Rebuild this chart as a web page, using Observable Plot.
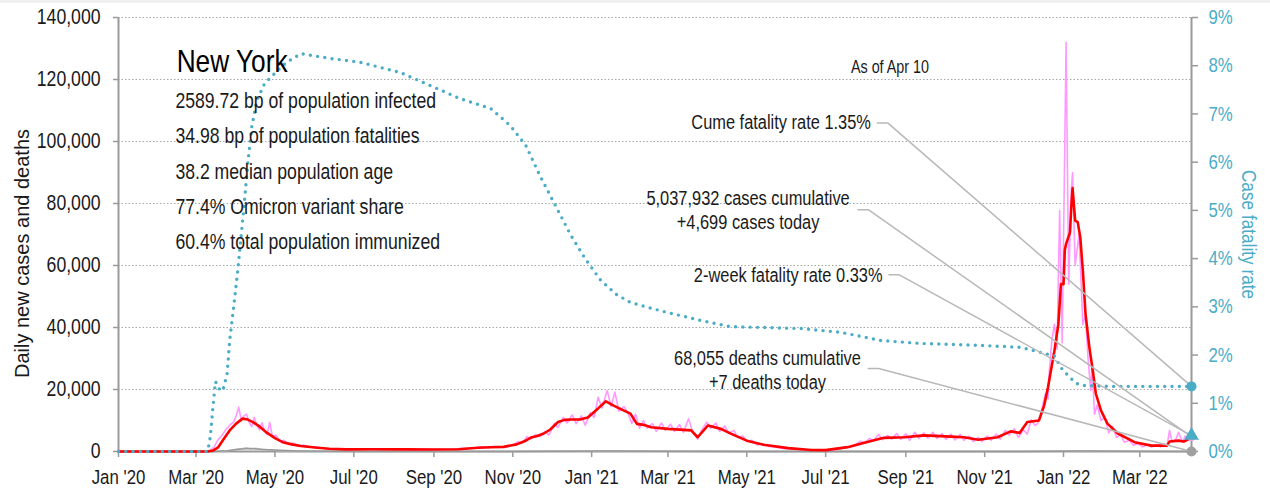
<!DOCTYPE html>
<html><head><meta charset="utf-8">
<script src="https://cdn.jsdelivr.net/npm/d3@7"></script>
<script src="https://cdn.jsdelivr.net/npm/@observablehq/plot@0.6"></script>
<style>
html,body{margin:0;padding:0;background:#fff;}
#strip{height:3px;background:#f0f0f0;}
#chart svg{display:block;}
</style></head><body>
<div id="strip"></div>
<div id="chart"></div>
<script>
// ---------- data ----------
const yTicks = [0, 20000, 40000, 60000, 80000, 100000, 120000, 140000];
const cfrTicks = [0, 1, 2, 3, 4, 5, 6, 7, 8, 9];
const xTicks = ["2020-01-01","2020-03-01","2020-05-01","2020-07-01","2020-09-01","2020-11-01",
  "2021-01-01","2021-03-01","2021-05-01","2021-07-01","2021-09-01","2021-11-01","2022-01-01","2022-03-01"];
const xStart = "2020-01-01", xEnd = "2022-04-10";

// daily new cases (raw, pink)
const dailyCases = [
["2020-01-01",0],["2020-03-08",0],["2020-03-12",400],["2020-03-15",1500],["2020-03-18",3800],["2020-03-21",5200],
["2020-03-24",7000],["2020-03-27",8500],["2020-03-30",9500],["2020-04-01",11500],["2020-04-03",14300],["2020-04-05",10000],
["2020-04-07",11500],["2020-04-09",12000],["2020-04-11",9500],["2020-04-13",8000],["2020-04-15",11000],["2020-04-17",8500],
["2020-04-19",7000],["2020-04-21",9300],["2020-04-23",6500],["2020-04-25",5500],["2020-04-27",9400],["2020-04-29",5000],
["2020-05-02",5200],["2020-05-05",3200],["2020-05-08",3600],["2020-05-12",2300],["2020-05-15",2700],["2020-05-19",1700],
["2020-05-23",2100],["2020-05-28",1500],["2020-06-03",1300],["2020-06-10",900],["2020-06-18",800],["2020-06-26",650],
["2020-07-05",700],["2020-07-15",850],["2020-07-25",700],["2020-08-05",750],["2020-08-15",650],["2020-08-25",700],
["2020-09-05",800],["2020-09-15",750],["2020-09-25",1000],["2020-10-02",1100],["2020-10-08",1500],["2020-10-13",1200],
["2020-10-18",1600],["2020-10-23",1400],["2020-10-28",1900],["2020-11-01",2000],["2020-11-05",3200],["2020-11-08",2700],
["2020-11-12",4800],["2020-11-15",4000],["2020-11-19",5500],["2020-11-22",4800],["2020-11-26",6500],["2020-11-29",5300],
["2020-12-03",9000],["2020-12-06",7800],["2020-12-10",11000],["2020-12-13",9200],["2020-12-17",11800],["2020-12-20",9000],
["2020-12-24",11500],["2020-12-27",8500],["2020-12-31",12500],["2021-01-03",11000],["2021-01-06",17500],["2021-01-09",14000],
["2021-01-13",19700],["2021-01-16",14500],["2021-01-19",19200],["2021-01-22",13000],["2021-01-26",14500],["2021-01-29",12500],
["2021-02-01",9000],["2021-02-04",12000],["2021-02-07",7500],["2021-02-10",10000],["2021-02-13",7500],["2021-02-17",9000],
["2021-02-20",6500],["2021-02-24",9200],["2021-02-27",6800],["2021-03-03",8800],["2021-03-06",6500],["2021-03-10",8700],
["2021-03-13",6200],["2021-03-17",10600],["2021-03-20",6500],["2021-03-24",4000],["2021-03-27",6800],["2021-03-31",9500],
["2021-04-03",7500],["2021-04-07",9200],["2021-04-10",6500],["2021-04-14",8200],["2021-04-17",5800],["2021-04-21",6800],
["2021-04-24",4500],["2021-04-28",5000],["2021-05-01",3200],["2021-05-05",3600],["2021-05-09",2100],["2021-05-13",2500],
["2021-05-18",1600],["2021-05-23",1500],["2021-05-30",900],["2021-06-08",800],["2021-06-18",450],["2021-06-28",400],
["2021-07-08",500],["2021-07-15",1100],["2021-07-20",1600],["2021-07-24",2200],["2021-07-28",3300],["2021-07-31",2800],
["2021-08-04",4200],["2021-08-07",3500],["2021-08-11",5500],["2021-08-14",3800],["2021-08-18",5200],["2021-08-21",4000],
["2021-08-25",5800],["2021-08-28",3900],["2021-09-01",5700],["2021-09-04",3600],["2021-09-08",6200],["2021-09-11",4200],
["2021-09-15",6000],["2021-09-18",4300],["2021-09-22",6200],["2021-09-25",4200],["2021-09-29",5800],["2021-10-02",3900],
["2021-10-06",5600],["2021-10-09",3700],["2021-10-13",5500],["2021-10-16",3600],["2021-10-20",5000],["2021-10-23",3200],
["2021-10-27",4600],["2021-10-30",3200],["2021-11-03",5000],["2021-11-06",3600],["2021-11-10",5600],["2021-11-13",4000],
["2021-11-17",6800],["2021-11-20",5300],["2021-11-24",7300],["2021-11-27",4600],["2021-12-01",7000],["2021-12-04",5600],
["2021-12-07",10200],["2021-12-10",8400],["2021-12-12",9000],["2021-12-14",11500],["2021-12-16",15000],["2021-12-18",18700],
["2021-12-20",17000],["2021-12-21",26000],["2021-12-23",36000],["2021-12-25",41000],["2021-12-27",33000],["2021-12-29",77700],
["2021-12-31",35000],["2022-01-03",132000],["2022-01-05",54000],["2022-01-07",84000],["2022-01-08",90000],["2022-01-10",60000],
["2022-01-13",70000],["2022-01-16",41000],["2022-01-18",44000],["2022-01-20",30000],["2022-01-22",19700],["2022-01-23",28000],
["2022-01-25",12000],["2022-01-27",15000],["2022-01-30",10000],["2022-02-02",11000],["2022-02-05",6000],["2022-02-08",8000],
["2022-02-11",4500],["2022-02-14",5500],["2022-02-17",3000],["2022-02-21",3600],["2022-02-24",2000],["2022-02-28",2600],
["2022-03-03",1500],["2022-03-07",2200],["2022-03-10",1400],["2022-03-14",2300],["2022-03-17",1500],["2022-03-20",2500],
["2022-03-22",1600],["2022-03-24",6800],["2022-03-26",3000],["2022-03-29",4000],["2022-03-31",6200],["2022-04-03",3000],
["2022-04-05",5000],["2022-04-07",4200],["2022-04-08",5800],["2022-04-10",4699]
];

// 7-day average of new cases (red)
const avgCases = [
["2020-01-01",0],["2020-03-10",0],["2020-03-14",300],["2020-03-18",1300],["2020-03-22",3800],["2020-03-27",6800],
["2020-04-01",9000],["2020-04-06",10600],["2020-04-10",10300],["2020-04-14",9500],["2020-04-19",8100],["2020-04-25",6000],
["2020-05-01",4300],["2020-05-07",3000],["2020-05-14",2300],["2020-05-21",1800],["2020-06-01",1300],["2020-06-12",900],
["2020-06-25",700],["2020-07-15",750],["2020-08-10",700],["2020-08-30",650],["2020-09-20",750],["2020-10-05",1200],
["2020-10-15",1350],["2020-10-25",1500],["2020-11-04",2300],["2020-11-10",3300],["2020-11-15",4500],["2020-11-20",5000],
["2020-11-25",5800],["2020-11-30",7100],["2020-12-06",9500],["2020-12-11",10200],["2020-12-16",10300],["2020-12-23",10300],
["2020-12-29",11000],["2021-01-06",13900],["2021-01-12",16200],["2021-01-18",14800],["2021-01-26",13200],["2021-01-31",12200],
["2021-02-05",8900],["2021-02-10",8600],["2021-02-16",7800],["2021-03-01",7300],["2021-03-19",6800],["2021-03-24",4600],
["2021-04-01",8400],["2021-04-11",7300],["2021-04-19",5700],["2021-05-01",3500],["2021-05-14",2200],["2021-06-02",1100],
["2021-06-20",500],["2021-07-01",450],["2021-07-18",1400],["2021-07-31",2800],["2021-08-15",4400],["2021-08-31",4600],
["2021-09-15",5200],["2021-10-06",4800],["2021-10-16",4600],["2021-10-27",3800],["2021-11-11",4600],["2021-11-21",6500],
["2021-11-28",6000],["2021-12-04",9500],["2021-12-13",10000],["2021-12-17",14800],["2021-12-20",20700],["2021-12-25",32600],
["2021-12-28",41000],["2021-12-30",54000],["2022-01-01",54000],["2022-01-02",65000],["2022-01-03",67000],["2022-01-06",70700],
["2022-01-07",78800],["2022-01-08",85000],["2022-01-10",74500],["2022-01-12",74000],["2022-01-14",69000],["2022-01-16",58000],
["2022-01-18",44500],["2022-01-21",33600],["2022-01-24",25000],["2022-01-26",18700],["2022-01-30",13200],["2022-02-04",9000],
["2022-02-12",5800],["2022-02-25",3000],["2022-03-10",1900],["2022-03-22",1900],["2022-03-24",3200],["2022-03-31",3500],
["2022-04-04",3200],["2022-04-10",4500]
];

// daily deaths (light grey) and 7-day average deaths (grey)
const dailyDeaths = [
["2020-01-01",0],["2020-03-12",0],["2020-03-20",60],["2020-03-27",350],["2020-04-02",800],["2020-04-06",1000],
["2020-04-09",1250],["2020-04-12",850],["2020-04-16",1050],["2020-04-20",700],["2020-04-24",550],["2020-04-28",480],
["2020-05-03",350],["2020-05-10",250],["2020-05-20",150],["2020-06-01",80],["2020-06-15",40],["2020-07-01",20],
["2020-08-01",10],["2020-09-01",8],["2020-10-01",12],["2020-11-01",20],["2020-12-01",60],["2020-12-20",110],
["2021-01-10",180],["2021-02-01",160],["2021-03-01",90],["2021-04-01",60],["2021-05-01",40],["2021-06-01",15],
["2021-07-01",5],["2021-08-01",10],["2021-09-01",35],["2021-10-01",30],["2021-11-01",25],["2021-12-01",40],
["2021-12-20",60],["2022-01-05",150],["2022-01-15",200],["2022-02-01",140],["2022-03-01",40],["2022-04-01",15],["2022-04-10",7]
];
const avgDeaths = [
["2020-01-01",0],["2020-03-14",0],["2020-03-25",250],["2020-04-05",800],["2020-04-12",950],["2020-04-22",650],
["2020-05-05",380],["2020-05-20",170],["2020-06-10",60],["2020-07-10",18],["2020-10-01",10],["2020-12-01",55],
["2021-01-15",160],["2021-03-01",95],["2021-05-01",40],["2021-07-01",6],["2021-09-01",30],["2021-12-01",40],
["2022-01-15",170],["2022-02-15",90],["2022-04-10",12]
];

// cumulative case fatality rate, % (blue dotted, right axis)
const cfrRate = [
["2020-01-01",0],["2020-03-10",0],["2020-03-12",0.3],["2020-03-14",0.9],["2020-03-16",1.45],["2020-03-18",1.35],
["2020-03-20",1.25],["2020-03-22",1.3],["2020-03-25",1.6],["2020-03-27",2.3],["2020-03-30",2.98],["2020-04-02",3.69],
["2020-04-04",4.23],["2020-04-07",5.06],["2020-04-10",5.97],["2020-04-13",6.72],["2020-04-17",7.28],["2020-04-23",7.63],
["2020-05-03",7.9],["2020-05-10",8.07],["2020-05-21",8.25],["2020-06-13",8.15],["2020-07-06",8.07],["2020-08-06",7.86],
["2020-08-29",7.59],["2020-09-21",7.32],["2020-10-15",7.11],["2020-10-30",6.76],["2020-11-11",6.35],["2020-11-22",5.72],
["2020-12-04",5.1],["2020-12-16",4.48],["2020-12-27",4.0],["2021-01-08",3.55],["2021-01-20",3.26],["2021-01-31",3.09],
["2021-02-23",2.92],["2021-03-26",2.72],["2021-04-18",2.59],["2021-06-12",2.55],["2021-07-13",2.47],["2021-08-13",2.3],
["2021-09-13",2.24],["2021-10-29",2.2],["2021-11-29",2.16],["2021-12-15",2.05],["2021-12-25",1.98],["2021-12-30",1.74],
["2022-01-03",1.62],["2022-01-07",1.51],["2022-01-11",1.41],["2022-01-16",1.37],["2022-02-05",1.35],["2022-04-10",1.35]
];
const twoWeekCFR = 0.33;

const titleText = "New York";
const statLines = [
  "2589.72 bp of population infected",
  "34.98 bp of population fatalities",
  "38.2 median population age",
  "77.4% Omicron variant share",
  "60.4% total population immunized"
];
const asOfText = "As of Apr 10";
const cumeText = "Cume fatality rate 1.35%";
const casesText = ["5,037,932 cases cumulative", "+4,699 cases today"];
const twoWeekText = "2-week fatality rate 0.33%";
const deathsText = ["68,055 deaths cumulative", "+7 deaths today"];
const yLabel = "Daily new cases and deaths";
const y2Label = "Case fatality rate";

// ---------- build ----------
const Y_MAX = 140000, CFR_MAX = 9;
const cfrToY = v => v * Y_MAX / CFR_MAX;
const D = s => new Date(s + "T00:00:00Z");
const rows = arr => arr.map(([d, v]) => ({date: D(d), value: v}));
const daily = rows(dailyCases), avg = rows(avgCases), dDeaths = rows(dailyDeaths), aDeaths = rows(avgDeaths), cfr = rows(cfrRate);
const endDate = D(xEnd);
const lastCfr = cfr[cfr.length - 1].value;
const lastCases = daily[daily.length - 1].value;
const lastDeaths = dDeaths[dDeaths.length - 1].value;

const BLUE = "#4bacc6", INK = "#1a1a1a", AXIS = "#9a9a9a";
const FONT = "'Liberation Sans', Arial, sans-serif";
const NARROW = 0.82; // condensed look (Arial Narrow proportions)

// annotation anchors (in data space)
const notes = {
  title: {date: D("2020-02-15"), value: 125800},
  stats: {date: D("2020-02-14"), value: 91700},
  asOf: {date: D("2021-09-19"), value: 124000},
  cume: {date: D("2021-08-05"), value: 106000},
  cases: {date: D("2021-05-02"), value: 78000},
  twoWeek: {date: D("2021-08-14"), value: 56600},
  deaths: {date: D("2021-05-17"), value: 26600}
};
const leaders = [
  {id: "cume", date: D("2021-08-10"), value: 106000}, {id: "cume", date: D("2021-08-18"), value: 106000}, {id: "cume", date: endDate, value: cfrToY(lastCfr)},
  {id: "cases", date: D("2021-07-26"), value: 78000}, {id: "cases", date: D("2021-08-03"), value: 78000}, {id: "cases", date: endDate, value: lastCases},
  {id: "two", date: D("2021-08-19"), value: 57000}, {id: "two", date: D("2021-08-27"), value: 57000}, {id: "two", date: endDate, value: cfrToY(twoWeekCFR)},
  {id: "deaths", date: D("2021-08-03"), value: 26800}, {id: "deaths", date: D("2021-08-11"), value: 26800}, {id: "deaths", date: endDate, value: lastDeaths}
];

const chart = Plot.plot({
  width: 1270, height: 488,
  marginLeft: 118, marginRight: 79, marginTop: 14, marginBottom: 40,
  x: {type: "utc", domain: [D(xStart), endDate]},
  y: {domain: [0, Y_MAX]},
  style: {fontFamily: FONT, fontSize: "20px", color: INK, background: "#fff"},
  marks: [
    Plot.gridY(yTicks.slice(1), {stroke: "#a8a8a8", strokeOpacity: 1, strokeDasharray: "1.5,2"}),
    Plot.axisY(yTicks, {anchor: "left", tickSize: 5, tickPadding: 13, stroke: AXIS, strokeWidth: 1.5, fill: INK, tickFormat: d3.format(","), label: null, fontSize: 21.5}),
    Plot.axisY(cfrTicks.map(cfrToY), {anchor: "right", tickSize: 6, tickPadding: 11, stroke: AXIS, strokeWidth: 1.5, fill: BLUE, tickFormat: v => Math.round(v * CFR_MAX / Y_MAX) + "%", label: null, fontSize: 20.5}),
    Plot.axisX(xTicks.map(D), {anchor: "bottom", tickSize: 6, tickPadding: 12, stroke: AXIS, strokeWidth: 1.5, fill: INK, tickFormat: d3.utcFormat("%b '%y"), label: null, fontSize: 20.5}),
    Plot.ruleX([D(xStart), endDate], {stroke: AXIS, strokeWidth: 2}),
    Plot.ruleY([0], {stroke: AXIS, strokeWidth: 2}),
    Plot.line(daily, {x: "date", y: "value", stroke: "#ff99ff", strokeWidth: 1.6}),
    Plot.line(dDeaths, {x: "date", y: "value", stroke: "#c4c4c4", strokeWidth: 1.5}),
    Plot.line(aDeaths, {x: "date", y: "value", stroke: "#999", strokeWidth: 1.5}),
    Plot.line(avg, {x: "date", y: "value", stroke: "#ff0000", strokeWidth: 2.6}),
    Plot.line(cfr, {x: "date", y: d => cfrToY(d.value), stroke: BLUE, strokeWidth: 3.4, strokeDasharray: "0,7.3", strokeLinecap: "round"}),
    Plot.line(leaders, {x: "date", y: "value", z: "id", stroke: "#b8b8b8", strokeWidth: 1.5}),
    Plot.dot([{date: endDate, value: lastCases}], {x: "date", y: "value", r: 4, fill: "#ff99ff"}),
    Plot.dot([{date: endDate, value: cfrToY(lastCfr)}], {x: "date", y: "value", r: 5, fill: BLUE}),
    Plot.dot([{date: endDate, value: cfrToY(twoWeekCFR)}], {x: "date", y: "value", r: 5.5, symbol: "triangle", fill: BLUE}),
    Plot.dot([{date: endDate, value: lastDeaths}], {x: "date", y: "value", r: 5, fill: "#a0a0a0"}),
    Plot.text([titleText], {x: () => notes.title.date, y: () => notes.title.value, text: d => d, textAnchor: "start", fontSize: 32, fill: "#000"}),
    Plot.text([statLines.join("\n")], {x: () => notes.stats.date, y: () => notes.stats.value, text: d => d, textAnchor: "start", fontSize: 21.5, lineHeight: 1.64, fill: INK}),
    Plot.text([asOfText], {x: () => notes.asOf.date, y: () => notes.asOf.value, text: d => d, textAnchor: "end", fontSize: 17.5, fill: INK}),
    Plot.text([cumeText], {x: () => notes.cume.date, y: () => notes.cume.value, text: d => d, textAnchor: "end", fontSize: 20, fill: INK}),
    Plot.text([twoWeekText], {x: () => notes.twoWeek.date, y: () => notes.twoWeek.value, text: d => d, textAnchor: "end", fontSize: 20, fill: INK}),
    Plot.text([casesText.join("\n")], {x: () => notes.cases.date, y: () => notes.cases.value, text: d => d, textAnchor: "middle", fontSize: 20, lineHeight: 1.2, fill: INK}),
    Plot.text([deathsText.join("\n")], {x: () => notes.deaths.date, y: () => notes.deaths.value, text: d => d, textAnchor: "middle", fontSize: 20, lineHeight: 1.2, fill: INK}),
    Plot.text([yLabel], {frameAnchor: "left", text: d => d, rotate: -90, dx: -96, dy: 19, textAnchor: "middle", fontSize: 20, fill: INK}),
    Plot.text([y2Label], {frameAnchor: "right", text: d => d, rotate: 90, dx: 57, textAnchor: "middle", fontSize: 21, fill: BLUE})
  ]
});
document.getElementById("chart").appendChild(chart);

// condense text runs horizontally (the reference uses a narrow sans face);
// the left axis title keeps its natural width, as in the reference
chart.querySelectorAll("text").forEach(t => {
  if (t.textContent === yLabel) return;
  const spans = t.querySelectorAll("tspan");
  const targets = spans.length ? Array.from(spans) : [t];
  targets.forEach(el => {
    const w = el.getComputedTextLength();
    if (w > 0) {
      el.setAttribute("textLength", (w * NARROW).toFixed(2));
      el.setAttribute("lengthAdjust", "spacingAndGlyphs");
    }
  });
});
</script></body></html>
